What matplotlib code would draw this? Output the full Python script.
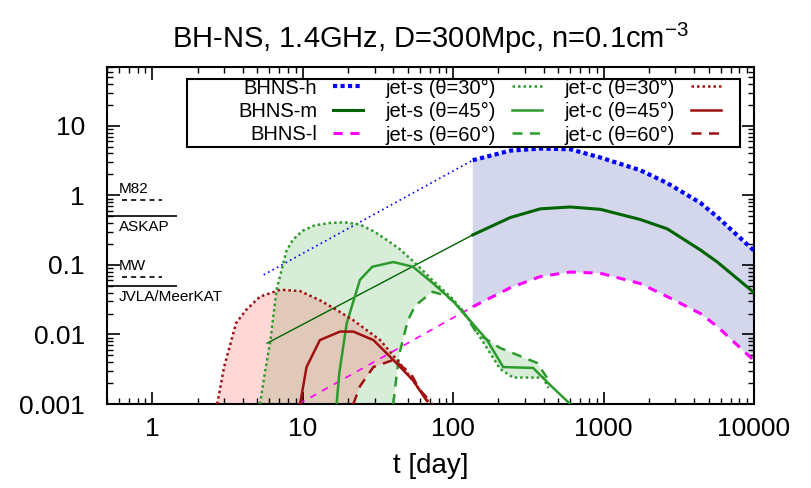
import matplotlib.pyplot as plt
import matplotlib.patches as mpatches
import numpy as np

plt.rcParams['font.family'] = ['Liberation Sans', 'DejaVu Sans']
plt.rcParams['mathtext.fontset'] = 'custom'
plt.rcParams['mathtext.rm'] = 'Liberation Sans'

# merger ejecta, t [day] vs flux [mJy]
t_h_early = [5.5, 135]
f_h_early = [0.072, 3.2]
t_m_early = [5.8, 135]
f_m_early = [0.0075, 0.27]
t_l_early = [9.4, 135]
f_l_early = [0.001, 0.025]

t_late = [135, 240, 380, 600, 950, 1750, 2650, 4400, 5700, 10000]
f_h = [3.2, 4.4, 4.7, 4.6, 3.5, 2.3, 1.5, 0.78, 0.49, 0.16]
f_m = [0.27, 0.48, 0.64, 0.68, 0.63, 0.45, 0.33, 0.164, 0.11, 0.04]
f_l = [0.025, 0.047, 0.068, 0.079, 0.076, 0.054, 0.035, 0.02, 0.013, 0.0042]

# structured jet (jet-s)
t_js30 = [5.2, 5.6, 6.1, 6.7, 7.8, 8.6, 10, 12, 15, 19, 24, 30, 36, 44, 55, 73, 100, 123, 160, 205, 250, 396, 430]
f_js30 = [0.001, 0.0028, 0.0083, 0.044, 0.16, 0.23, 0.31, 0.37, 0.4, 0.41, 0.38, 0.3, 0.23, 0.17, 0.11, 0.06,
          0.032, 0.018, 0.0075, 0.0032, 0.0024, 0.0024, 0.0017]
t_js45 = [16.8, 17.5, 19.6, 24, 29, 40, 54, 73, 100, 123, 168, 215, 340, 450, 600]
f_js45 = [0.001, 0.0028, 0.0145, 0.061, 0.094, 0.11, 0.094, 0.055, 0.03, 0.018, 0.0083, 0.0034, 0.0033, 0.0018, 0.001]
t_js60 = [40, 42, 44, 50, 56, 63, 73, 90, 111, 144, 205, 361, 420]
f_js60 = [0.001, 0.0025, 0.0054, 0.016, 0.026, 0.032, 0.041, 0.036, 0.025, 0.0104, 0.0064, 0.0039, 0.0024]

# cocoon (jet-c)
t_jc30 = [2.7, 3.0, 3.6, 4.2, 5.2, 7.1, 9.6, 13, 16, 21.7, 32.7, 44, 60, 70]
f_jc30 = [0.001, 0.0034, 0.0145, 0.0225, 0.035, 0.044, 0.042, 0.031, 0.024, 0.016, 0.0083, 0.0039, 0.0016, 0.001]
t_jc45 = [9.6, 10.6, 13, 17.7, 21.7, 29.5, 40, 54, 67]
f_jc45 = [0.001, 0.0034, 0.0083, 0.011, 0.011, 0.0083, 0.0043, 0.0022, 0.0011]
t_jc60 = [21.7, 24, 29.5, 40, 52, 60, 73]
f_jc60 = [0.001, 0.0018, 0.0034, 0.0043, 0.0028, 0.0016, 0.001]

# detection limits
det_names = ['M82', 'ASKAP', 'MW', 'JVLA/MeerKAT']
det_levels = [0.86, 0.51, 0.067, 0.05]
det_dashed = [True, False, True, False]

xticks = [1, 10, 100, 1000, 10000]
xticklabels = ['1', '10', '100', '1000', '10000']
yticks = [0.001, 0.01, 0.1, 1, 10]
yticklabels = ['0.001', '0.01', '0.1', '1', '10']

fig = plt.figure(figsize=(8.12, 4.88), dpi=100)
ax = fig.add_axes([0.1318, 0.1721, 0.7968, 0.6906])
ax.set_xscale('log')
ax.set_yscale('log')

blue = '#0000ff'
dgreen = '#006400'
mag = '#ff00ff'
green = '#2c9a2c'
dred = '#a00f0f'

# shaded ranges
ax.fill(np.concatenate([t_late, t_late[::-1]]), np.concatenate([f_h, f_l[::-1]]),
        color='#d4d6ec', lw=0, zorder=1)
ax.fill(np.concatenate([t_js30, t_js60[::-1]]), np.concatenate([f_js30, f_js60[::-1]]),
        color='#50b050', alpha=0.22, lw=0, zorder=1)
ax.fill(np.concatenate([t_jc30, t_jc60[::-1]]), np.concatenate([f_jc30, f_jc60[::-1]]),
        color='#ff6060', alpha=0.25, lw=0, zorder=1)

# ejecta
ax.plot(t_h_early, f_h_early, color=blue, lw=1.2, ls=(0, (1, 2)), zorder=3)
ax.plot(t_m_early, f_m_early, color=dgreen, lw=1.0, zorder=3)
ax.plot(t_l_early, f_l_early, color=mag, lw=1.2, ls=(0, (4, 4)), zorder=3)
ax.plot(t_late, f_h, color=blue, lw=3, ls=(0, (1, 0.8)), zorder=4, label='BHNS-h')
ax.plot(t_late, f_m, color=dgreen, lw=2.2, zorder=4, label='BHNS-m')
ax.plot(t_late, f_l, color=mag, lw=2.2, ls=(0, (3, 2.5)), zorder=4, label='BHNS-l')

# jets
ax.plot(t_js30, f_js30, color=green, lw=1.8, ls=(0, (1, 1.2)), zorder=3, label='jet-s (θ=30°)')
ax.plot(t_js45, f_js45, color=green, lw=1.8, zorder=3, label='jet-s (θ=45°)')
ax.plot(t_js60, f_js60, color=green, lw=1.8, ls=(0, (4, 3)), zorder=3, label='jet-s (θ=60°)')
ax.plot(t_jc30, f_jc30, color=dred, lw=1.8, ls=(0, (1, 1.2)), zorder=3, label='jet-c (θ=30°)')
ax.plot(t_jc45, f_jc45, color=dred, lw=1.8, zorder=3, label='jet-c (θ=45°)')
ax.plot(t_jc60, f_jc60, color=dred, lw=1.8, ls=(0, (4, 3)), zorder=3, label='jet-c (θ=60°)')

# sensitivity marks on the left
for name, lev, dashed in zip(det_names, det_levels, det_dashed):
    if dashed:
        ax.hlines(lev, 0.63, 1.16, color='black', lw=1.2, ls=(0, (3, 2.5)))
        ax.annotate(name, (0.6, lev), xytext=(0, 3), textcoords='offset points',
                    ha='left', va='bottom', fontsize=11)
    else:
        ax.hlines(lev, 0.5, 1.46, color='black', lw=1.2)
        ax.annotate(name, (0.6, lev), xytext=(0, -3), textcoords='offset points',
                    ha='left', va='top', fontsize=11)

ax.set_xlim(0.5, 10000)
ax.set_ylim(0.001, 70)
ax.set_xticks(xticks)
ax.set_xticklabels(xticklabels)
ax.set_yticks(yticks)
ax.set_yticklabels(yticklabels)
ax.tick_params(which='both', direction='in', top=True, right=True, labelsize=19)
ax.tick_params(axis='x', which='major', length=9, width=1.2, pad=9)
ax.tick_params(axis='y', which='major', length=9, width=1.2, pad=16)
ax.tick_params(which='minor', length=4.5, width=1)
for s in ax.spines.values():
    s.set_linewidth(1.5)

ax.set_xlabel('t [day]', fontsize=20, labelpad=9)
ax.set_title(r'BH-NS, 1.4GHz, D=300Mpc, n=0.1cm$^{\mathrm{-3}}$', fontsize=21, pad=14)

# key: gnuplot-like box with text before the sample
key_box = mpatches.Rectangle((0.1236, 0.7626), 0.8548, 0.2018, transform=ax.transAxes,
                             facecolor='white', edgecolor='black', lw=1.5, zorder=5)
ax.add_patch(key_box)
h, lab = ax.get_legend_handles_labels()
leg = ax.legend(h, lab, ncol=3, loc='upper left', bbox_to_anchor=(0.2025, 0.966),
                markerfirst=False, fontsize=14.5, frameon=False, borderpad=0,
                labelspacing=0.22, handlelength=1.5, handletextpad=0.8,
                columnspacing=1.1, borderaxespad=0)
leg.set_zorder(6)

fig.savefig('out.png', dpi=100)
